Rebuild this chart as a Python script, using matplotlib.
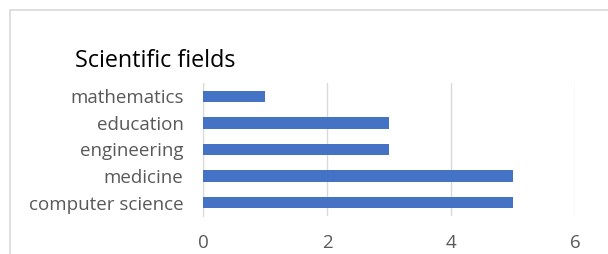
import matplotlib.pyplot as plt
from matplotlib.patches import Rectangle

fields = ['computer science', 'medicine', 'engineering', 'education', 'mathematics']
counts = [5, 5, 3, 3, 1]
xticks = [0, 2, 4, 6]

plt.rcParams['font.family'] = ['Open Sans', 'DejaVu Sans']

fig = plt.figure(figsize=(6.08, 2.54), dpi=100)
ax = fig.add_axes([203/608, 1 - 216/254, 372/608, 133/254])

ax.barh(range(len(fields)), counts, height=0.43, color='#4472c4', zorder=3)
ax.set_xlim(0, 6)
ax.set_ylim(-0.5, 4.5)
ax.set_xticks(xticks)
ax.set_yticks(range(len(fields)))
ax.set_yticklabels(fields)
ax.grid(axis='x', color='#d9d9d9', linewidth=1)
for s in ['top', 'right', 'bottom']:
    ax.spines[s].set_visible(False)
ax.spines['left'].set_color('#d9d9d9')
ax.tick_params(length=0, labelsize=13.5, labelcolor='#595959')
ax.tick_params(axis='x', pad=13)
ax.tick_params(axis='y', pad=14)

fig.text(75/608, 1 - 61/254, 'Scientific fields', fontsize=16.8, va='center', color='#000000')

# chart frame
fig.patches.append(Rectangle((10/608, -0.1), 1.0, 1 - 10/254 + 0.1, transform=fig.transFigure,
                             fill=False, edgecolor='#d9d9d9', linewidth=1.2))

fig.savefig('out.png', dpi=100)
